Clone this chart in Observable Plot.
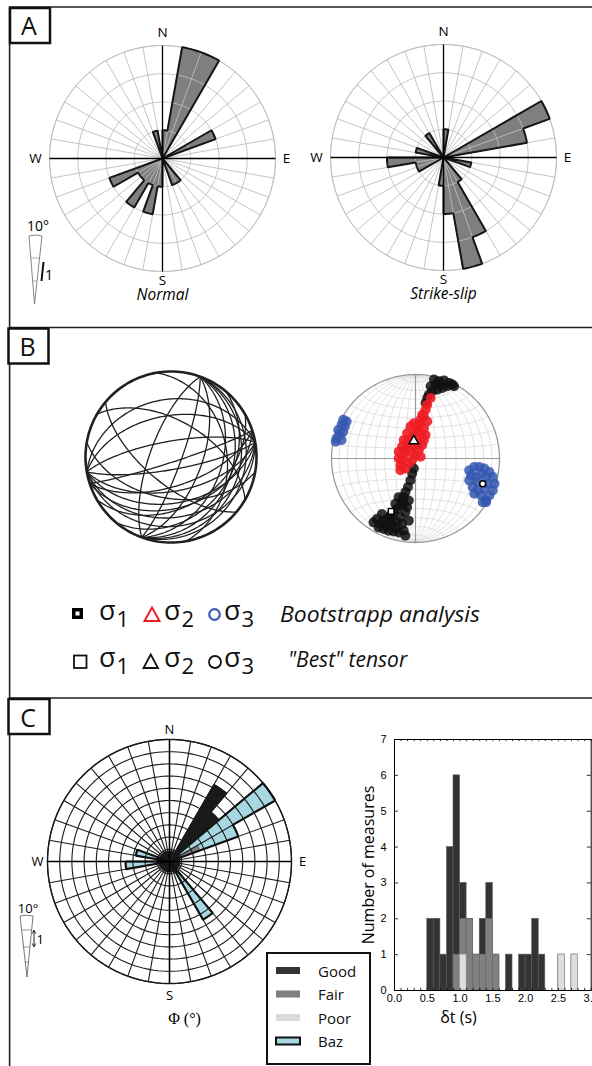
<!DOCTYPE html>
<html>
<head>
<meta charset="utf-8">
<script src="https://cdn.jsdelivr.net/npm/d3@7"></script>
<script src="https://cdn.jsdelivr.net/npm/@observablehq/plot@0.6"></script>
<style>
html,body{margin:0;padding:0;background:#fff;overflow:hidden;}
#fig{position:relative;width:592px;height:1066px;overflow:hidden;background:#fff;}
#fig > svg{position:absolute;display:block;}
</style>
</head>
<body>
<div id="fig"></div>
<script>
// ======================= DATA =======================
// Rose diagrams: 10-degree azimuth bins (bin start, clockwise from N)
const roseBinWidth = 10;
const roseBinStart = [0,10,20,30,40,50,60,70,80,90,100,110,120,130,140,150,160,170,180,190,200,210,220,230,240,250,260,270,280,290,300,310,320,330,340,350];
// Panel A (ring units: 1 ring = 1 count)
const normalCounts     = [1,4,4,0,0,0,2,0,0,0,0,0,0,0,1,1,0,0,1,2,1,2,1,1,2,0,0,0,0,0,0,0,0,0,1,0];
const strikeSlipCounts = [1,0,0,0,0,0,4,3,0,0,1,0,0,0,1,3,4,2,1,0,0,0,0,0,1,1,2,0,1,0,0,0,1,0,0,0];
// Panel C rose (ring units, 10 rings)
const phiGoodCounts = [0,0,0,7.3,5.3,0,0,0,0,0,0,0,0,0,0,0,0,0,0,0,0,0,0,0,0,0,0,0,0,0,0,0,0,0,0,0];
const phiFairCounts = [0,0,0,0,0,0,2.7,0,0,0,0,0,0,0,0,0,0,0,0,0,0,0,0,0,0,0,0,0,0,0,0,0,0,0,0,0];
const bazCounts     = [0,0,0,0,0,10,6,0,0,0,0,0,0,0,5.5,0,0,0,0,0,0,0,0,0,0,0,3.6,0,2.8,0,0,0,0,0,0,0];

// Panel B left: fault planes (strike, dip; right-hand rule)
const planeStrike = [72,72,72,80,80,80,80,80,260,260,260,20,20,20,20,20,20,200,100,60,300,40,130,350];
const planeDip    = [85,62,40,78,57,45,30,20,75,50,33,80,60,40,28,20,14,70,50,40,55,30,65,35];

// Panel B right: bootstrap solutions, equal-area net coordinates [east, north]
const sigma1Cloud = [[0.22,0.94],[0.28,0.92],[0.34,0.93],[0.40,0.90],[0.44,0.88],[0.38,0.86],[0.30,0.88],[0.24,0.88],[0.18,0.86],[0.26,0.82],[0.32,0.84],[0.46,0.86],[0.20,0.80],[0.16,0.76],[0.14,0.72],[0.12,0.66],
 [-0.02,-0.12],[-0.04,-0.18],[-0.06,-0.26],[-0.09,-0.34],[-0.12,-0.40],[-0.14,-0.46],[-0.16,-0.50],[-0.18,-0.56],[-0.22,-0.60],[-0.26,-0.64],[-0.30,-0.68],[-0.34,-0.72],[-0.38,-0.74],[-0.42,-0.78],[-0.44,-0.82],[-0.38,-0.84],[-0.32,-0.86],[-0.26,-0.87],[-0.20,-0.88],[-0.14,-0.86],[-0.16,-0.78],[-0.22,-0.76],[-0.28,-0.78],[-0.34,-0.80],[-0.18,-0.70],[-0.12,-0.64],[-0.10,-0.58],[-0.08,-0.50],[-0.24,-0.54],[-0.20,-0.46],[-0.40,-0.66],[-0.46,-0.72],[-0.50,-0.76],[-0.12,-0.92],[-0.08,-0.74],[-0.28,-0.70],[-0.24,-0.82],[-0.30,-0.74],[-0.14,-0.54]];
const sigma2Cloud = [[0.18,0.72],[0.14,0.64],[0.12,0.58],[0.08,0.52],[0.06,0.46],[0.04,0.40],[0.02,0.36],[-0.06,0.38],[0.00,0.30],[-0.04,0.26],[-0.08,0.22],[-0.10,0.16],[-0.12,0.10],[-0.14,0.04],[-0.16,-0.02],[-0.18,-0.08],[-0.18,-0.14],[0.06,0.28],[0.10,0.22],[0.08,0.16],[0.04,0.10],[0.00,0.04],[-0.04,-0.02],[-0.08,-0.06],[-0.12,-0.12],[-0.10,0.30],[-0.14,0.22],[0.02,0.18],[-0.02,0.14],[-0.06,0.08],[0.14,0.44],[0.10,0.36],[-0.16,0.14],[0.06,0.02],[-0.20,0.00],[0.10,0.50],[-0.02,0.42],[0.12,0.28],[-0.20,0.08]];
const sigma3Cloud = [[0.64,-0.14],[0.70,-0.10],[0.76,-0.10],[0.82,-0.12],[0.88,-0.16],[0.92,-0.22],[0.94,-0.30],[0.92,-0.38],[0.88,-0.44],[0.84,-0.50],[0.84,-0.52],[0.78,-0.44],[0.74,-0.38],[0.68,-0.34],[0.64,-0.26],[0.66,-0.20],[0.72,-0.22],[0.78,-0.18],[0.84,-0.22],[0.86,-0.30],[0.82,-0.36],[0.74,-0.28],[0.70,-0.42],[0.80,-0.52],
 [-0.88,0.40],[-0.92,0.34],[-0.90,0.28],[-0.94,0.24],[-0.86,0.32],[-0.84,0.38],[-0.95,0.20],[-0.88,0.22],[-0.82,0.44],[-0.86,0.46]];
const bestSigma1 = [-0.29,-0.63];
const bestSigma2 = [-0.02,0.21];
const bestSigma3 = [0.80,-0.30];

// Panel C histogram: delay time bins (s) and counts per quality
const dtBinWidth = 0.1;
const dtBinStart = [0.5,0.6,0.7,0.8,0.9,1.0,1.1,1.2,1.3,1.4,1.5,1.6,1.7,1.8,1.9,2.0,2.1,2.2,2.3,2.4,2.5,2.6,2.7];
const goodN = [2,2,1,4,5,1,0,0,1,1,0,0,1,0,1,1,2,1,0,0,0,0,0];
const fairN = [0,0,0,0,1,1,2,1,1,2,1,0,0,0,0,0,0,0,0,0,0,0,0];
const poorN = [0,0,0,0,0,1,0,0,0,0,0,0,0,0,0,0,0,0,0,0,1,0,1];
const histYTicks = [0,1,2,3,4,5,6,7];
const histXTicks = [0,0.5,1,1.5,2,2.5,3];
const histMinorX = [0,0.1,0.2,0.3,0.4,0.5,0.6,0.7,0.8,0.9,1,1.1,1.2,1.3,1.4,1.5,1.6,1.7,1.8,1.9,2,2.1,2.2,2.3,2.4,2.5,2.6,2.7,2.8,2.9,3];
const qualityLabels = ["Good","Fair","Poor","Baz"];

// ======================= HELPERS =======================
const FONT = '"Open Sans", "DejaVu Sans", sans-serif';
const rad = Math.PI/180;
const fig = document.getElementById("fig");
function put(svg, left, top){ svg.style.position="absolute"; svg.style.left=left+"px"; svg.style.top=top+"px"; fig.appendChild(svg); }
function polar(r,a){ return [r*Math.sin(a*rad), r*Math.cos(a*rad)]; }
function petalPolygon(counts){
  const pts=[];
  counts.forEach((c,i)=>{
    const a0=roseBinStart[i], a1=a0+roseBinWidth;
    for(let a=a0;a<=a1+1e-9;a+=1){ const [x,y]=polar(c,a); pts.push({x,y}); }
  });
  return pts;
}
function makeRose(cfg){
  const {rings, unit, pad} = cfg;
  const half = rings*unit + pad, dom = half/unit;
  const circles=[], spokes=[];
  for(let r=1;r<=rings;r++) for(let a=0;a<=360;a+=2){ const [x,y]=polar(r,a); circles.push({x,y,r}); }
  for(const a of roseBinStart){ const [x,y]=polar(rings,a); spokes.push({x,y}); }
  const outer=[]; for(let a=0;a<=360;a+=2){ const [x,y]=polar(rings,a); outer.push({x,y}); }
  const marks=[];
  for(const L of cfg.layers) marks.push(Plot.line(petalPolygon(L.counts),{x:"x",y:"y",fill:L.fill,stroke:"none",curve:"linear-closed"}));
  marks.push(Plot.line(circles,{x:"x",y:"y",z:"r",stroke:cfg.gridColor,strokeWidth:cfg.gridWidth}));
  marks.push(Plot.link(spokes,{x1:0,y1:0,x2:"x",y2:"y",stroke:cfg.gridColor,strokeWidth:cfg.gridWidth}));
  if(cfg.hub) marks.push(Plot.dot([0],{x:0,y:0,r:cfg.hub,fill:cfg.gridColor,stroke:"none"}));
  marks.push(Plot.line(outer,{x:"x",y:"y",stroke:cfg.outerColor,strokeWidth:cfg.outerWidth}));
  for(const L of cfg.layers) if(L.stroke) marks.push(Plot.line(petalPolygon(L.counts),{x:"x",y:"y",fill:"none",stroke:L.stroke,strokeWidth:L.strokeWidth,curve:"linear-closed",strokeLinejoin:"miter"}));
  marks.push(Plot.link([{x1:-rings,y1:0,x2:rings,y2:0},{x1:0,y1:-rings,x2:0,y2:rings}],{x1:"x1",y1:"y1",x2:"x2",y2:"y2",stroke:"#000",strokeWidth:cfg.axisWidth}));
  const fs=cfg.labelSize, T={fontFamily:FONT,fontSize:fs,text:d=>d,lineAnchor:"middle"};
  marks.push(Plot.text(["N"],{...T,x:0,y:rings,dy:-cfg.lab.n}));
  marks.push(Plot.text(["S"],{...T,x:0,y:-rings,dy:cfg.lab.s}));
  marks.push(Plot.text(["W"],{...T,x:-rings,y:0,dx:-cfg.lab.w}));
  marks.push(Plot.text(["E"],{...T,x:rings,y:0,dx:cfg.lab.e}));
  if(cfg.caption) marks.push(Plot.text([cfg.caption.text],{text:d=>d,x:0,y:-rings,dy:cfg.caption.dy,dx:cfg.caption.dx||0,lineAnchor:"middle",fontSize:cfg.caption.size,fontStyle:cfg.caption.italic?"italic":"normal",fontFamily:cfg.caption.font||FONT}));
  const svg = Plot.plot({width:2*half,height:2*half,margin:0,
    x:{domain:[-dom,dom],axis:null}, y:{domain:[-dom,dom],axis:null},
    style:{background:"transparent",overflow:"visible"}, marks});
  return {svg, half};
}
function proj(trend, plunge){ const r=Math.SQRT2*Math.sin((90-plunge)*rad/2); return [r*Math.sin(trend*rad), r*Math.cos(trend*rad)]; }
function greatCircle(strike, dip, id){
  const s=strike*rad, d=dip*rad, dd=s+Math.PI/2;
  const S=[Math.sin(s),Math.cos(s),0], D=[Math.cos(d)*Math.sin(dd),Math.cos(d)*Math.cos(dd),Math.sin(d)];
  const pts=[];
  for(let t=0;t<=180;t+=1.5){ const c=Math.cos(t*rad), sn=Math.sin(t*rad);
    const v=[c*S[0]+sn*D[0], c*S[1]+sn*D[1], c*S[2]+sn*D[2]];
    const pl=Math.asin(Math.max(-1,Math.min(1,v[2])))/rad, tr=Math.atan2(v[0],v[1])/rad;
    const [x,y]=proj(tr,pl); pts.push({x,y,id}); }
  return pts;
}
function smallCircleNS(c, id){
  const pts=[];
  for(let f=0;f<=180;f+=2){ const v=[Math.sin(c*rad)*Math.cos(f*rad), Math.cos(c*rad), Math.sin(c*rad)*Math.sin(f*rad)];
    const pl=Math.asin(Math.max(-1,Math.min(1,v[2])))/rad, tr=Math.atan2(v[0],v[1])/rad;
    const [x,y]=proj(tr,pl); pts.push({x,y,id}); }
  return pts;
}
function netPlot(R, pad, marks){
  const s=2*(R+pad), dom=(R+pad)/R;
  return Plot.plot({width:s,height:s,margin:0,x:{domain:[-dom,dom],axis:null},y:{domain:[-dom,dom],axis:null},
    style:{background:"transparent",overflow:"visible"},marks});
}
const primitive = d3.range(0,361,2).map(a=>({x:Math.sin(a*rad),y:Math.cos(a*rad)}));

// ======================= PANEL A =======================
const roseA = (counts, caption) => makeRose({rings:4, unit:28.25, pad:36,
  layers:[{counts, fill:"#7f7f7f", stroke:"#151515", strokeWidth:2}],
  gridColor:"#bdbdbd", gridWidth:0.9, outerColor:"#bdbdbd", outerWidth:0.9, axisWidth:1.3,
  labelSize:13.5, lab:{n:13, s:9.5, w:14, e:11},
  caption:{text:caption, dy:23.5, size:15.5, italic:true}});
{ const r=roseA(normalCounts,"Normal"); put(r.svg,162-r.half,158-r.half); }
{ const r=roseA(strikeSlipCounts,"Strike-slip"); put(r.svg,443-r.half,157-r.half); }

// ======================= PANEL B =======================
{ // fault planes
  const R=85.5, pad=6;
  const arcs = planeStrike.flatMap((s,i)=>greatCircle(s,planeDip[i],i));
  const svg = netPlot(R,pad,[
    Plot.line(arcs,{x:"x",y:"y",z:"id",stroke:"#231f20",strokeWidth:1.3}),
    Plot.line(primitive,{x:"x",y:"y",stroke:"#231f20",strokeWidth:2.6})
  ]);
  put(svg,170-R-pad,456-R-pad);
}
{ // bootstrap stereonet
  const R=84, pad=6;
  const grid=[];
  [10,20,30,40,50,60,70,80].forEach(d=>{ grid.push(...greatCircle(0,d,"e"+d)); grid.push(...greatCircle(180,d,"w"+d)); });
  [10,20,30,40,50,60,70,80,100,110,120,130,140,150,160,170].forEach(c=>grid.push(...smallCircleNS(c,"s"+c)));
  const pts = (arr)=>arr.map(([x,y])=>({x,y}));
  const svg = netPlot(R,pad,[
    Plot.line(grid,{x:"x",y:"y",z:"id",stroke:"#cfcfcf",strokeWidth:0.6}),
    Plot.link([{x1:-1,y1:0,x2:1,y2:0},{x1:0,y1:-1,x2:0,y2:1}],{x1:"x1",y1:"y1",x2:"x2",y2:"y2",stroke:"#9a9a9a",strokeWidth:1.2}),
    Plot.line(primitive,{x:"x",y:"y",stroke:"#9a9a9a",strokeWidth:1.3}),
    Plot.dot(pts(sigma3Cloud),{x:"x",y:"y",r:5,fill:"#3558b0",fillOpacity:0.85}),
    Plot.dot(pts(sigma1Cloud),{x:"x",y:"y",r:5,fill:"#111",fillOpacity:0.85}),
    Plot.dot(pts(sigma2Cloud),{x:"x",y:"y",r:5,fill:"#ee1d25",fillOpacity:0.9}),
    Plot.dot([bestSigma1],{x:d=>d[0],y:d=>d[1],symbol:"square",r:3.2,fill:"#fff",stroke:"#000",strokeWidth:1.5}),
    Plot.dot([bestSigma2],{x:d=>d[0],y:d=>d[1],symbol:"triangle",r:3.6,fill:"#fff",stroke:"#000",strokeWidth:1.5}),
    Plot.dot([bestSigma3],{x:d=>d[0],y:d=>d[1],symbol:"circle",r:3,fill:"#fff",stroke:"#000",strokeWidth:1.5})
  ]);
  put(svg,415-R-pad,458-R-pad);
}

// ======================= PANEL C =======================
{ const r=makeRose({rings:10, unit:12.2, pad:44,
    layers:[{counts:bazCounts, fill:"#a7d8e2", stroke:"#111", strokeWidth:2.2},
            {counts:phiGoodCounts, fill:"#1a1a1a", stroke:"#1a1a1a", strokeWidth:1.2},
            {counts:phiFairCounts, fill:"#7f7f7f"}],
    gridColor:"#1a1a1a", gridWidth:1.1, outerColor:"#1a1a1a", outerWidth:1.4, axisWidth:1.5, hub:11,
    labelSize:13, lab:{n:10, s:12, w:10, e:11},
    caption:{text:"Φ (°)", dy:35, dx:15, size:16, font:'"Liberation Serif", serif'}});
  put(r.svg,169.3-r.half,861-r.half);
}
{ // histogram
  const histData = dtBinStart.map((b,i)=>({x1:b, x2:b+dtBinWidth, total:goodN[i]+fairN[i]+poorN[i], fp:fairN[i]+poorN[i], poor:poorN[i]}));
  const svg = Plot.plot({width:260,height:320,marginLeft:54,marginRight:9.3,marginTop:19,marginBottom:50,
    x:{domain:[0,3]}, y:{domain:[0,7]},
    style:{background:"transparent",overflow:"visible",fontFamily:'"Liberation Sans", Arial, sans-serif',fontSize:"11px"},
    marks:[
      Plot.rect(histData.filter(d=>d.total>0),{x1:"x1",x2:"x2",y1:0,y2:"total",fill:"#333333",stroke:"#5e5e5e",strokeWidth:0.6}),
      Plot.rect(histData.filter(d=>d.fp>0),{x1:"x1",x2:"x2",y1:0,y2:"fp",fill:"#808080",stroke:"#666",strokeWidth:0.6}),
      Plot.rect(histData.filter(d=>d.poor>0),{x1:"x1",x2:"x2",y1:0,y2:"poor",fill:"#dedede",stroke:"#9c9c9c",strokeWidth:0.6}),
      Plot.ruleX(histMinorX,{y1:0,y2:0.06,stroke:"#000",strokeWidth:0.8}),
      Plot.ruleX(histMinorX,{y1:6.94,y2:7,stroke:"#000",strokeWidth:0.8}),
      Plot.ruleY(histYTicks,{x1:0,x2:0.06,stroke:"#000",strokeWidth:0.8}),
      Plot.ruleY(histYTicks,{x1:2.94,x2:3,stroke:"#000",strokeWidth:0.8}),
      Plot.frame({stroke:"#000",strokeWidth:1}),
      Plot.axisX({ticks:histXTicks,tickSize:0,tickPadding:4,tickFormat:d3.format(".1f"),label:null}),
      Plot.axisY({ticks:histYTicks,tickSize:0,tickPadding:8,tickFormat:d3.format("d"),label:null}),
      Plot.text(["Number of measures"],{text:d=>d,frameAnchor:"left",rotate:-90,dx:-26,textAnchor:"middle",lineAnchor:"middle",fontSize:16,fontFamily:FONT}),
      Plot.text(["δt (s)"],{text:d=>d,frameAnchor:"bottom-left",dx:64,dy:27,textAnchor:"middle",lineAnchor:"middle",fontSize:16,fontFamily:FONT})
    ]});
  put(svg,340,720);
}

// ======================= FRAME, LABELS, LEGENDS (overlay) =======================
const ns="http://www.w3.org/2000/svg";
const ov=document.createElementNS(ns,"svg");
ov.setAttribute("width",592); ov.setAttribute("height",1066);
ov.style.left="0px"; ov.style.top="0px"; ov.style.position="absolute";
function el(tag, attrs, text){ const e=document.createElementNS(ns,tag); for(const k in attrs) e.setAttribute(k,attrs[k]); if(text!=null) e.textContent=text; ov.appendChild(e); return e; }
const lineC="#231f20";
el("line",{x1:9,y1:7,x2:592,y2:7,stroke:lineC,"stroke-width":1.6});
el("line",{x1:9.6,y1:7,x2:9.6,y2:1066,stroke:lineC,"stroke-width":1.6});
el("line",{x1:9,y1:327.5,x2:592,y2:327.5,stroke:lineC,"stroke-width":1.6});
el("line",{x1:9,y1:698,x2:592,y2:698,stroke:lineC,"stroke-width":1.6});
[["A",10,8,40,35,35],["B",8.5,328.5,40,35,356],["C",8.5,699,41,35,727]].forEach(([t,x,y,w,h,bl])=>{
  el("rect",{x,y,width:w,height:h,fill:"#fff",stroke:"#111","stroke-width":2.5});
  el("text",{x:x+w/2-1,y:bl,"text-anchor":"middle","font-family":FONT,"font-size":25,fill:"#111"},t);
});
// scale wedge A
el("text",{x:38,y:231,"text-anchor":"middle","font-family":FONT,"font-size":14},"10°");
el("path",{d:"M29,236 Q35.5,234 42,236 L34.5,304 Z",fill:"none",stroke:"#666","stroke-width":0.8});
el("line",{x1:30.8,y1:258,x2:39.6,y2:258,stroke:"#888","stroke-width":0.7});
el("line",{x1:32.6,y1:281,x2:37,y2:281,stroke:"#888","stroke-width":0.7});
el("line",{x1:43.5,y1:262,x2:41.5,y2:281,stroke:"#111","stroke-width":2});
el("text",{x:45,y:280,"font-family":FONT,"font-size":14},"1");
// scale wedge C
el("text",{x:28,y:913,"text-anchor":"middle","font-family":FONT,"font-size":13},"10°");
el("path",{d:"M20,916 Q26.5,914.5 33,916 L27,977 Z",fill:"none",stroke:"#555","stroke-width":0.8});
el("line",{x1:21.5,y1:930,x2:31.6,y2:930,stroke:"#666","stroke-width":0.7});
el("line",{x1:23.3,y1:947,x2:29.9,y2:947,stroke:"#666","stroke-width":0.7});
el("line",{x1:24.8,y1:962,x2:28.5,y2:962,stroke:"#666","stroke-width":0.7});
el("line",{x1:34,y1:931,x2:34,y2:946,stroke:"#111","stroke-width":0.9});
el("path",{d:"M32.3,933.5 L34,930 L35.7,933.5 M32.3,943.5 L34,947 L35.7,943.5",fill:"none",stroke:"#111","stroke-width":0.9});
el("text",{x:36.5,y:944,"font-family":FONT,"font-size":13},"1");
// legend B
const sig=(x,y,sub)=>{ el("text",{x,y,"font-family":FONT,"font-size":27,fill:"#111"},"σ"); el("text",{x:x+17.5,y:y+7,"font-family":FONT,"font-size":22,fill:"#111"},sub); };
el("rect",{x:72,y:608,width:11,height:11,fill:"#000"});
el("rect",{x:75.5,y:611.5,width:4,height:4,fill:"#fff"});
sig(99,620,"1");
el("path",{d:"M144.5,621 L159.5,621 L152,607.5 Z",fill:"none",stroke:"#ed1c24","stroke-width":2});
sig(164,620,"2");
el("circle",{cx:214.5,cy:614.5,r:5.3,fill:"none",stroke:"#3b5cb8","stroke-width":2.2});
sig(224,620,"3");
el("text",{x:280,y:622,"font-family":FONT,"font-size":22,"font-style":"italic",fill:"#111",textLength:200,lengthAdjust:"spacingAndGlyphs"},"Bootstrapp analysis");
el("rect",{x:74,y:655.5,width:12.5,height:12.5,fill:"none",stroke:"#111","stroke-width":1.8});
sig(99,667,"1");
el("path",{d:"M143.5,668 L158,668 L150.7,654.5 Z",fill:"none",stroke:"#111","stroke-width":1.8});
sig(164,667,"2");
el("circle",{cx:215,cy:662,r:6,fill:"none",stroke:"#111","stroke-width":1.8});
sig(224,667,"3");
el("text",{x:288,y:667,"font-family":FONT,"font-size":21,"font-style":"italic",fill:"#111"},"\"Best\" tensor");
// legend C
el("rect",{x:267,y:953,width:103,height:111,fill:"#fff",stroke:"#111","stroke-width":2});
const swatches=[{fill:"#333333"},{fill:"#808080"},{fill:"#dcdcdc"},{fill:"#a7d8e2",stroke:"#111"}];
qualityLabels.forEach((t,i)=>{
  const y=967+i*23.5;
  const s=swatches[i];
  el("rect",{x:276,y:y,width:24,height:7,fill:s.fill,stroke:s.stroke||"none","stroke-width":s.stroke?2:0});
  el("text",{x:318,y:y+9.5,"font-family":FONT,"font-size":15,fill:"#111"},t);
});
fig.appendChild(ov);
</script>
</body>
</html>
